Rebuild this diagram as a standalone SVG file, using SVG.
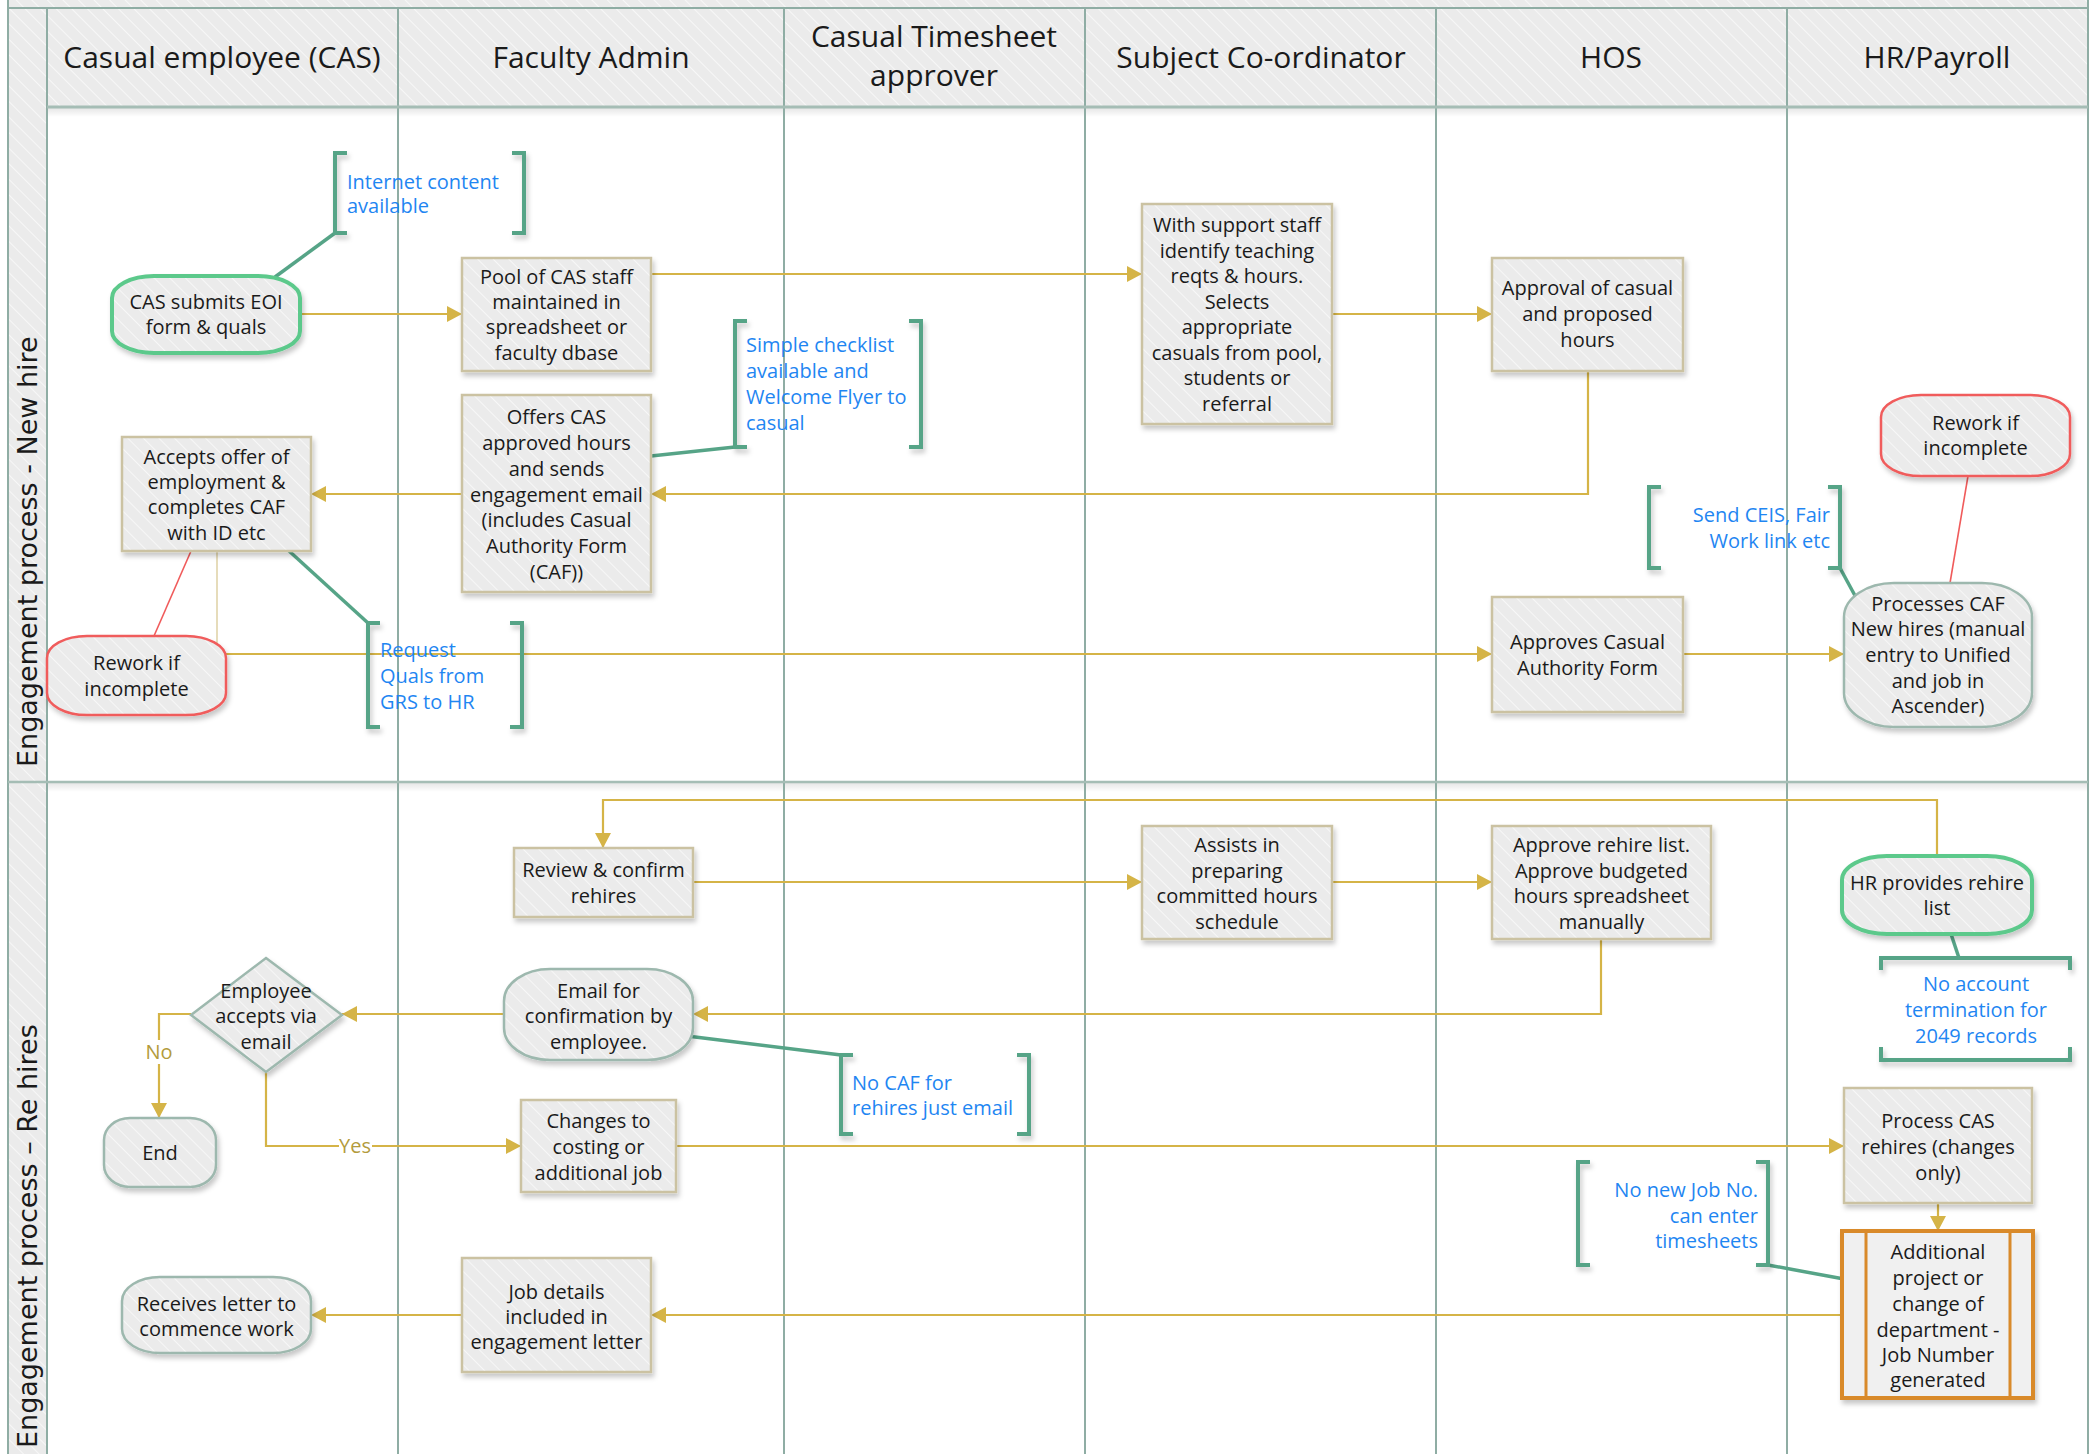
<svg xmlns="http://www.w3.org/2000/svg" width="2098" height="1454" viewBox="0 0 2098 1454">
<defs>
<pattern id="hatch" width="11" height="11" patternUnits="userSpaceOnUse" patternTransform="rotate(-45)">
<rect width="11" height="11" fill="#ebebeb"/>
<line x1="0" y1="0" x2="0" y2="11" stroke="#f7f7f7" stroke-width="2"/>
</pattern>
<filter id="sh" x="-10%" y="-10%" width="125%" height="130%">
<feDropShadow dx="2" dy="4" stdDeviation="2.5" flood-color="#000" flood-opacity="0.22"/>
</filter>
<linearGradient id="fade" x1="0" y1="0" x2="0" y2="1">
<stop offset="0" stop-color="#000" stop-opacity="0.10"/>
<stop offset="1" stop-color="#000" stop-opacity="0"/>
</linearGradient>
<marker id="ah" markerWidth="15" markerHeight="16" refX="15" refY="8" orient="auto" markerUnits="userSpaceOnUse">
<path d="M0,0 L15,8 L0,16 z" fill="#d5b447"/>
</marker>
</defs>
<style>
.lane{stroke:#8fada4;stroke-width:2;fill:none}
.t{font-family:"Open Sans","Noto Sans","Liberation Sans",sans-serif;font-size:20px;fill:#1a1a1a;text-anchor:middle}
.h{font-size:30px}
.a{fill:#1f86f2;text-anchor:start}
.ar{fill:#1f86f2;text-anchor:end}
.am{fill:#1f86f2;text-anchor:middle}
.lbl{fill:#b39b3c}
.pl{font-family:"DejaVu Sans","Liberation Sans",sans-serif;font-size:27px;fill:#1a1a1a}
.box{fill:url(#hatch);stroke:#cbc2a2;stroke-width:2.5;filter:url(#sh)}
.rnd{fill:url(#hatch);stroke:#9db8ae;stroke-width:2.5;filter:url(#sh)}
.grn{fill:url(#hatch);stroke:#5cc98b;stroke-width:4;filter:url(#sh)}
.red{fill:url(#hatch);stroke:#f05b5b;stroke-width:2.5;filter:url(#sh)}
.org{fill:#f0f0f0;stroke:#d98a2b;stroke-width:4;filter:url(#sh)}
.c{fill:none;stroke:#d5b447;stroke-width:2.2}
.ct{fill:none;stroke:#d9c996;stroke-width:1.3}
.ca{marker-end:url(#ah)}
.br{fill:none;stroke:#56a487;stroke-width:4;filter:url(#sh)}
.bl{fill:none;stroke:#56a487;stroke-width:3.5}
.rl{fill:none;stroke:#f05b5b;stroke-width:1.6}
</style>
<rect width="2098" height="1454" fill="#ffffff"/>

<g id="pools">
<rect x="8" y="0" width="2080" height="8" fill="url(#hatch)"/>
<rect x="8" y="8" width="39" height="1446" fill="url(#hatch)"/>
<rect x="47" y="8" width="2041" height="99" fill="url(#hatch)"/>
<rect x="47" y="108" width="2041" height="9" fill="url(#fade)"/>
<rect x="47" y="783" width="2041" height="9" fill="url(#fade)"/>
<line class="lane" x1="8" y1="8" x2="2088" y2="8"/>
<line class="lane" x1="8" y1="0" x2="8" y2="1454"/>
<line class="lane" x1="2088" y1="0" x2="2088" y2="1454"/>
<line class="lane" x1="47" y1="8" x2="47" y2="1454"/>
<line class="lane" x1="398" y1="8" x2="398" y2="1454"/>
<line class="lane" x1="784" y1="8" x2="784" y2="1454"/>
<line class="lane" x1="1085" y1="8" x2="1085" y2="1454"/>
<line class="lane" x1="1436" y1="8" x2="1436" y2="1454"/>
<line class="lane" x1="1787" y1="8" x2="1787" y2="1454"/>
<line x1="47" y1="107" x2="2088" y2="107" stroke="#a5bdb5" stroke-width="3"/>
<line x1="8" y1="782" x2="2088" y2="782" stroke="#a5bdb5" stroke-width="2.5"/>
<text class="t h"><tspan x="222" y="68">Casual employee (CAS)</tspan></text>
<text class="t h"><tspan x="591" y="68">Faculty Admin</tspan></text>
<text class="t h"><tspan x="934" y="47">Casual Timesheet</tspan><tspan x="934" y="86">approver</tspan></text>
<text class="t h"><tspan x="1261" y="68">Subject Co-ordinator</tspan></text>
<text class="t h"><tspan x="1611" y="68">HOS</tspan></text>
<text class="t h"><tspan x="1937" y="68">HR/Payroll</tspan></text>
<text class="pl" transform="translate(37,767) rotate(-90)">Engagement process - New hire</text>
<text class="pl" transform="translate(37,1448) rotate(-90)">Engagement process – Re hires</text>
</g>

<g id="connectors">
<path class="c ca" d="M300,314 H462"/>
<path class="c ca" d="M651,274 H1142"/>
<path class="c ca" d="M1332,314 H1492"/>
<path class="c ca" d="M1588,371 V494 H651"/>
<path class="c ca" d="M462,494 H311"/>
<path class="ct" d="M217,551 V654"/>
<path class="c ca" d="M217,654 H1492"/>
<path class="c ca" d="M1683,654 H1844"/>
<path class="rl" d="M191,551 L154,636"/>
<path class="rl" d="M1968,476 L1950,583"/>
<path class="c ca" d="M1937,856 V800 H603 V848"/>
<path class="c ca" d="M693,882 H1142"/>
<path class="c ca" d="M1332,882 H1492"/>
<path class="c ca" d="M1601,939 V1014 H693"/>
<path class="c ca" d="M504,1014 H342"/>
<path class="c ca" d="M191,1014 H159 V1118"/>
<path class="c ca" d="M266,1072 V1146 H521"/>
<path class="c ca" d="M676,1146 H1844"/>
<path class="c ca" d="M1938,1203 V1231"/>
<path class="c ca" d="M1842,1315 H651"/>
<path class="c ca" d="M462,1315 H311"/>
<rect x="148" y="1040" width="23" height="24" fill="#ffffff"/>
<text class="t lbl"><tspan x="159" y="1059">No</tspan></text>
<rect x="339" y="1134" width="33" height="24" fill="#ffffff"/>
<text class="t lbl"><tspan x="355" y="1153">Yes</tspan></text>
<path class="bl" d="M335,233 L275,277"/>
<path class="bl" d="M651,456 L735,447"/>
<path class="bl" d="M288,550 L368,623"/>
<path class="bl" d="M1840,568 L1859,603"/>
<path class="bl" d="M1951,934 L1959,958"/>
<path class="bl" d="M687,1036 L841,1055"/>
<path class="bl" d="M1768,1265 L1844,1279"/>
</g>

<g id="n-cas-eoi"><rect class="grn" x="112" y="276" width="188" height="77" rx="42" ry="22"/><text class="t"><tspan x="206" y="309">CAS submits EOI</tspan><tspan x="206" y="334">form &amp; quals</tspan></text></g>
<g id="n-pool"><rect class="box" x="462" y="258" width="189" height="113"/><text class="t"><tspan x="556.5" y="284">Pool of CAS staff</tspan><tspan x="556.5" y="309">maintained in</tspan><tspan x="556.5" y="334">spreadsheet or</tspan><tspan x="556.5" y="360">faculty dbase</tspan></text></g>
<g id="n-offers"><rect class="box" x="462" y="395" width="189" height="197"/><text class="t"><tspan x="556.5" y="424">Offers CAS</tspan><tspan x="556.5" y="450">approved hours</tspan><tspan x="556.5" y="476">and sends</tspan><tspan x="556.5" y="502">engagement email</tspan><tspan x="556.5" y="527">(includes Casual</tspan><tspan x="556.5" y="553">Authority Form</tspan><tspan x="556.5" y="579">(CAF))</tspan></text></g>
<g id="n-accepts"><rect class="box" x="122" y="437" width="189" height="114"/><text class="t"><tspan x="216.5" y="464">Accepts offer of</tspan><tspan x="216.5" y="489">employment &amp;</tspan><tspan x="216.5" y="514">completes CAF</tspan><tspan x="216.5" y="540">with ID etc</tspan></text></g>
<g id="n-rework-1"><rect class="red" x="47" y="636" width="179" height="79" rx="40" ry="22"/><text class="t"><tspan x="136.5" y="670">Rework if</tspan><tspan x="136.5" y="696">incomplete</tspan></text></g>
<g id="n-support"><rect class="box" x="1142" y="204" width="190" height="220"/><text class="t"><tspan x="1237" y="232">With support staff</tspan><tspan x="1237" y="257.5">identify teaching</tspan><tspan x="1237" y="283">reqts &amp; hours.</tspan><tspan x="1237" y="308.5">Selects</tspan><tspan x="1237" y="334">appropriate</tspan><tspan x="1237" y="359.5">casuals from pool,</tspan><tspan x="1237" y="385">students or</tspan><tspan x="1237" y="410.5">referral</tspan></text></g>
<g id="n-approval"><rect class="box" x="1492" y="258" width="191" height="113"/><text class="t"><tspan x="1587.5" y="295">Approval of casual</tspan><tspan x="1587.5" y="321">and proposed</tspan><tspan x="1587.5" y="347">hours</tspan></text></g>
<g id="n-approves-caf"><rect class="box" x="1492" y="597" width="191" height="115"/><text class="t"><tspan x="1587.5" y="649">Approves Casual</tspan><tspan x="1587.5" y="675">Authority Form</tspan></text></g>
<g id="n-rework-2"><rect class="red" x="1881" y="395" width="189" height="81" rx="40" ry="22"/><text class="t"><tspan x="1975.5" y="430">Rework if</tspan><tspan x="1975.5" y="455">incomplete</tspan></text></g>
<g id="n-processes"><rect class="rnd" x="1844" y="583" width="188" height="144" rx="50" ry="34"/><text class="t"><tspan x="1938" y="611">Processes CAF</tspan><tspan x="1938" y="636">New hires (manual</tspan><tspan x="1938" y="662">entry to Unified</tspan><tspan x="1938" y="688">and job in</tspan><tspan x="1938" y="713">Ascender)</tspan></text></g>
<g id="n-review"><rect class="box" x="514" y="848" width="179" height="69"/><text class="t"><tspan x="603.5" y="877">Review &amp; confirm</tspan><tspan x="603.5" y="903">rehires</tspan></text></g>
<g id="n-assists"><rect class="box" x="1142" y="826" width="190" height="113"/><text class="t"><tspan x="1237" y="852">Assists in</tspan><tspan x="1237" y="878">preparing</tspan><tspan x="1237" y="903">committed hours</tspan><tspan x="1237" y="929">schedule</tspan></text></g>
<g id="n-approve-rehire"><rect class="box" x="1492" y="826" width="219" height="113"/><text class="t"><tspan x="1601.5" y="852">Approve rehire list.</tspan><tspan x="1601.5" y="878">Approve budgeted</tspan><tspan x="1601.5" y="903">hours spreadsheet</tspan><tspan x="1601.5" y="929">manually</tspan></text></g>
<g id="n-hr-provides"><rect class="grn" x="1842" y="856" width="190" height="78" rx="45" ry="24"/><text class="t"><tspan x="1937" y="890">HR provides rehire</tspan><tspan x="1937" y="915">list</tspan></text></g>
<g id="n-email"><rect class="rnd" x="504" y="969" width="189" height="91" rx="46" ry="32"/><text class="t"><tspan x="598.5" y="998">Email for</tspan><tspan x="598.5" y="1023">confirmation by</tspan><tspan x="598.5" y="1049">employee.</tspan></text></g>
<g id="n-decision"><polygon class="rnd" points="266,958 342,1015 266,1072 191,1015"/><text class="t"><tspan x="266" y="998">Employee</tspan><tspan x="266" y="1023">accepts via</tspan><tspan x="266" y="1049">email</tspan></text></g>
<g id="n-end"><rect class="rnd" x="104" y="1118" width="112" height="69" rx="26" ry="22"/><text class="t"><tspan x="160" y="1160">End</tspan></text></g>
<g id="n-changes"><rect class="box" x="521" y="1100" width="155" height="92"/><text class="t"><tspan x="598.5" y="1128">Changes to</tspan><tspan x="598.5" y="1154">costing or</tspan><tspan x="598.5" y="1180">additional job</tspan></text></g>
<g id="n-process-rehires"><rect class="box" x="1844" y="1088" width="188" height="115"/><text class="t"><tspan x="1938" y="1128">Process CAS</tspan><tspan x="1938" y="1154">rehires (changes</tspan><tspan x="1938" y="1180">only)</tspan></text></g>
<g id="n-additional"><rect class="org" x="1842" y="1231" width="191" height="167"/><line x1="1866" y1="1231" x2="1866" y2="1398" stroke="#d98a2b" stroke-width="3"/><line x1="2010" y1="1231" x2="2010" y2="1398" stroke="#d98a2b" stroke-width="3"/><text class="t"><tspan x="1938" y="1259">Additional</tspan><tspan x="1938" y="1285">project or</tspan><tspan x="1938" y="1311">change of</tspan><tspan x="1938" y="1337">department -</tspan><tspan x="1938" y="1362">Job Number</tspan><tspan x="1938" y="1387">generated</tspan></text></g>
<g id="n-job-details"><rect class="box" x="462" y="1258" width="189" height="114"/><text class="t"><tspan x="556.5" y="1299">Job details</tspan><tspan x="556.5" y="1324">included in</tspan><tspan x="556.5" y="1349">engagement letter</tspan></text></g>
<g id="n-receives"><rect class="rnd" x="122" y="1277" width="189" height="76" rx="38" ry="24"/><text class="t"><tspan x="216.5" y="1311">Receives letter to</tspan><tspan x="216.5" y="1336">commence work</tspan></text></g>

<g id="a-internet"><path class="br" d="M347,153 H335 V233 H347 M512,153 H524 V233 H512"/><text class="t a"><tspan x="347" y="189">Internet content</tspan><tspan x="347" y="213">available</tspan></text></g>
<g id="a-checklist"><path class="br" d="M747,321 H735 V447 H747 M909,321 H921 V447 H909"/><text class="t a"><tspan x="746" y="352">Simple checklist</tspan><tspan x="746" y="378">available and</tspan><tspan x="746" y="404">Welcome Flyer to</tspan><tspan x="746" y="430">casual</tspan></text></g>
<g id="a-request"><path class="br" d="M380,623 H368 V727 H380 M510,623 H522 V727 H510"/><text class="t a"><tspan x="380" y="657">Request</tspan><tspan x="380" y="683">Quals from</tspan><tspan x="380" y="709">GRS to HR</tspan></text></g>
<g id="a-ceis"><path class="br" d="M1661,487 H1649 V568 H1661 M1828,487 H1840 V568 H1828"/><text class="t ar"><tspan x="1830" y="522">Send CEIS, Fair</tspan><tspan x="1830" y="548">Work link etc</tspan></text></g>
<g id="a-account"><path class="br" d="M1881,970 V958 H2070 V970 M1881,1047 V1060 H2070 V1047"/><text class="t am"><tspan x="1976" y="991">No account</tspan><tspan x="1976" y="1017">termination for</tspan><tspan x="1976" y="1043">2049 records</tspan></text></g>
<g id="a-nocaf"><path class="br" d="M853,1055 H841 V1134 H853 M1017,1055 H1029 V1134 H1017"/><text class="t a"><tspan x="852" y="1090">No CAF for</tspan><tspan x="852" y="1115">rehires just email</tspan></text></g>
<g id="a-jobno"><path class="br" d="M1590,1162 H1578 V1265 H1590 M1756,1162 H1768 V1265 H1756"/><text class="t ar"><tspan x="1758" y="1197">No new Job No.</tspan><tspan x="1758" y="1223">can enter</tspan><tspan x="1758" y="1248">timesheets</tspan></text></g>
</svg>
